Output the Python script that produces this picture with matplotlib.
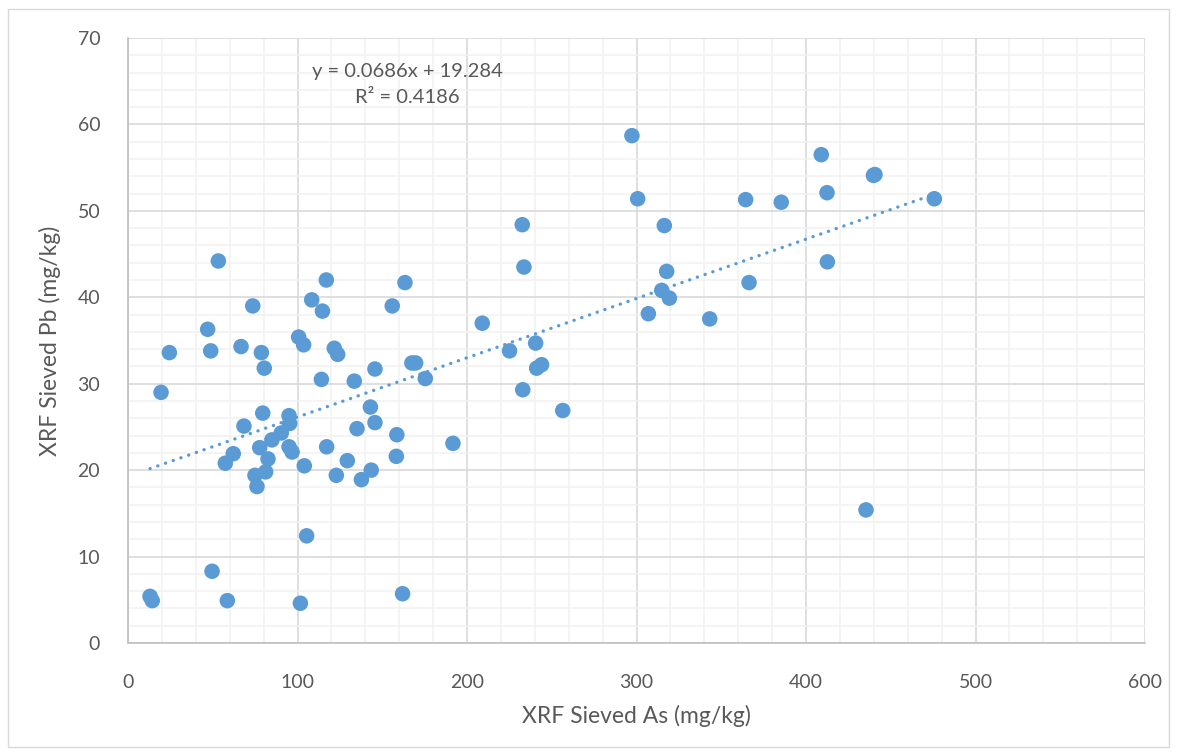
import matplotlib
matplotlib.use("Agg")
import matplotlib.pyplot as plt
from matplotlib.patches import Rectangle
from matplotlib.ticker import MultipleLocator
import numpy as np

plt.rcParams['font.family'] = ['Lato', 'DejaVu Sans']

# ---- data ----
as_mgkg = [13.0, 14.3, 19.5, 24.4, 47.0, 48.8, 49.6, 53.3, 57.4, 58.6,
           62.1, 66.7, 68.4, 73.6, 74.9, 76.1, 77.7, 78.7, 79.5, 80.4,
           81.2, 82.6, 84.9, 90.4, 95.0, 95.4, 95.0, 96.8, 100.7, 101.7,
           103.6, 104.0, 105.4, 108.4, 114.1, 114.7, 117.0, 117.2, 121.7, 122.9,
           123.7, 129.4, 133.5, 135.1, 137.7, 143.0, 143.5, 145.7, 145.7, 155.9,
           158.3, 158.6, 162.0, 163.4, 167.5, 169.7, 175.4, 191.7, 209.0, 225.1,
           232.6, 232.9, 233.6, 240.5, 241.1, 244.0, 256.5, 297.3, 300.7, 307.0,
           314.9, 316.4, 317.8, 319.4, 343.2, 364.4, 366.4, 385.4, 409.0, 412.4,
           412.6, 435.4, 439.8, 440.7, 475.7]
pb_mgkg = [5.4, 4.9, 29.0, 33.6, 36.3, 33.8, 8.3, 44.2, 20.8, 4.9,
           21.9, 34.3, 25.1, 39.0, 19.4, 18.1, 22.6, 33.6, 26.6, 31.8,
           19.8, 21.3, 23.5, 24.3, 26.3, 25.4, 22.7, 22.1, 35.4, 4.6,
           34.5, 20.5, 12.4, 39.7, 30.5, 38.4, 42.0, 22.7, 34.1, 19.4,
           33.4, 21.1, 30.3, 24.8, 18.9, 27.3, 20.0, 31.7, 25.5, 39.0,
           21.6, 24.1, 5.7, 41.7, 32.4, 32.4, 30.6, 23.1, 37.0, 33.8,
           48.4, 29.3, 43.5, 34.7, 31.8, 32.2, 26.9, 58.7, 51.4, 38.1,
           40.8, 48.3, 43.0, 39.9, 37.5, 51.3, 41.7, 51.0, 56.5, 52.1,
           44.1, 15.4, 54.1, 54.2, 51.4]

trend_slope = 0.0686
trend_intercept = 19.284
trend_r2 = 0.4186

x_ticks = [0, 100, 200, 300, 400, 500, 600]
y_ticks = [0, 10, 20, 30, 40, 50, 60, 70]

# ---- figure ----
W, H = 1177, 754
fig = plt.figure(figsize=(W / 100, H / 100), dpi=100)
fig.patch.set_facecolor('white')
fig.patches.append(Rectangle((8 / W, 1 - 747 / H), (1169 - 8) / W, (747 - 9) / H,
                             transform=fig.transFigure, fill=False,
                             edgecolor='#D9D9D9', linewidth=1.0))

ax = fig.add_axes([128 / W, 1 - 643 / H, (1145 - 128) / W, (643 - 38) / H])
ax.set_xlim(0, 600)
ax.set_ylim(0, 70)
ax.set_xticks(x_ticks)
ax.set_yticks(y_ticks)
ax.xaxis.set_minor_locator(MultipleLocator(20))
ax.yaxis.set_minor_locator(MultipleLocator(2))
ax.grid(which='minor', color='#F2F2F2', linewidth=1.2, zorder=0)
ax.grid(which='major', color='#D9D9D9', linewidth=1.2, zorder=0)
ax.set_axisbelow(True)
for s in ['top', 'right']:
    ax.spines[s].set_visible(False)
for s in ['left', 'bottom']:
    ax.spines[s].set_color('#BFBFBF')
    ax.spines[s].set_linewidth(1.2)
ax.tick_params(which='both', length=0)
ax.tick_params(axis='x', pad=22, labelsize=14, labelcolor='#595959')
ax.tick_params(axis='y', pad=20, labelsize=14, labelcolor='#595959')

ax.scatter(as_mgkg, pb_mgkg, s=125, color='#5B9BD5', edgecolors='none',
           zorder=3, clip_on=False)

xs = np.array([min(as_mgkg), max(as_mgkg)])
ax.plot(xs, trend_slope * xs + trend_intercept, color='#5B9BD5',
        linewidth=2.4, linestyle=(0, (0.05, 2.4)), dash_capstyle='round',
        zorder=4)

ax.text(165, 64.6, f"y = {trend_slope}x + {trend_intercept}\nR² = {trend_r2}",
        ha='center', va='center', multialignment='center', fontsize=14.5,
        color='#595959', linespacing=1.6)

ax.set_xlabel('XRF Sieved As (mg/kg)', fontsize=16.5, color='#595959', labelpad=10)
ax.set_ylabel('XRF Sieved Pb (mg/kg)', fontsize=16.5, color='#595959', labelpad=12)

fig.savefig('out.png', dpi=100)
